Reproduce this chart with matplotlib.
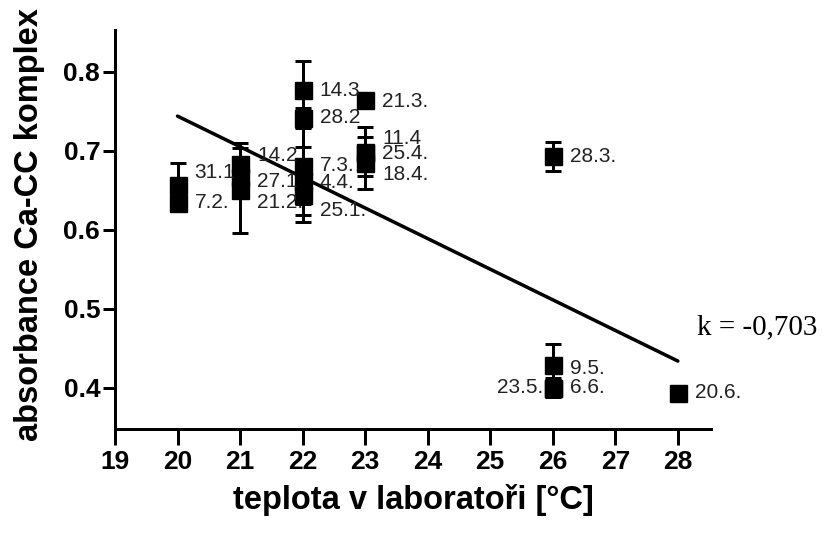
import matplotlib
matplotlib.use("Agg")
import matplotlib.pyplot as plt

# Measurement days, lab temperature and Ca-CC complex absorbance
dates = ["31.1", "7.2.",
         "14.2", "27.1", "21.2.",
         "14.3", "28.2", "7.3.", "4.4.", "25.1.",
         "21.3.", "11.4", "25.4.", "18.4.",
         "28.3.", "9.5.", "6.6.", "23.5.",
         "20.6."]
temperature = [20, 20,
               21, 21, 21,
               22, 22, 22, 22, 22,
               23, 23, 23, 23,
               26, 26, 26, 26,
               28]
absorbance = [0.657, 0.634,
              0.683, 0.667, 0.650,
              0.777, 0.742, 0.681, 0.662, 0.644,
              0.765, 0.699, 0.697, 0.685,
              0.693, 0.429, 0.400, 0.400,
              0.394]
sd = [0.028, 0.010,
      0.027, 0.020, 0.054,
      0.037, 0.012, 0.048, 0.043, 0.034,
      0.000, 0.031, 0.006, 0.033,
      0.018, 0.026, 0.012, 0.010,
      0.000]

# Vertical nudges of the point labels (pixels, + = down) and side
label_nudge = [-12, -1,
               -9, 5, 12,
               0, 0, 0, 2, 15,
               2, -13, 0, 12,
               0, 3, 0, 0,
               0]
label_left = ["23.5."]

# Linear trend line
trend_x = [20, 28]
trend_y = [0.744, 0.434]
corr_text = "k = -0,703"

x_ticks = list(range(19, 29))
y_ticks = [0.4, 0.5, 0.6, 0.7, 0.8]

plt.rcParams["font.family"] = ["Liberation Sans", "DejaVu Sans"]

W, H = 833, 533
fig = plt.figure(figsize=(W / 100, H / 100), dpi=100)
ax = fig.add_axes([115 / W, 104 / H, (711 - 115) / W, (429 - 30) / H])

px = 72 / 100  # points per pixel

for t, a, e in zip(temperature, absorbance, sd):
    ax.errorbar(t, a, yerr=e if e > 0 else None, fmt="s", color="black",
                ms=17 * px, elinewidth=3 * px, capsize=8 * px,
                capthick=3 * px, zorder=3)

ax.plot(trend_x, trend_y, color="black", lw=3.5 * px, zorder=4,
        solid_capstyle="round")

for d, t, a, n in zip(dates, temperature, absorbance, label_nudge):
    if d in label_left:
        ax.annotate(d, (t, a), xytext=(-10 * px, -n * px),
                    textcoords="offset points", ha="right", va="center",
                    fontsize=15, color="#222222", zorder=5)
    else:
        ax.annotate(d, (t, a), xytext=(17 * px, -n * px),
                    textcoords="offset points", ha="left", va="center",
                    fontsize=15, color="#222222", zorder=5)

ax.set_xlim(19, 28.53)
ax.set_ylim(0.348, 0.853)
ax.set_xticks(x_ticks)
ax.set_yticks(y_ticks)
ax.set_xticklabels([str(v) for v in x_ticks], fontsize=19, fontweight="bold")
ax.set_yticklabels([f"{v:.1f}" for v in y_ticks], fontsize=19,
                   fontweight="bold")

for side in ("top", "right"):
    ax.spines[side].set_visible(False)
for side in ("left", "bottom"):
    ax.spines[side].set_linewidth(3 * px)
ax.tick_params(axis="y", length=12 * px, width=3 * px, pad=2)
ax.tick_params(axis="x", length=16 * px, width=3 * px, pad=3.5)

fig.text(30 / W, 1 - 225 / H, "absorbance Ca-CC komplex", rotation=90,
         ha="center", va="center", fontsize=23.5, fontweight="bold")
fig.text(413 / W, 1 - 500 / H, "teplota v laboratoři [°C]",
         ha="center", va="center", fontsize=23.5, fontweight="bold")

fig.text(697 / W, 1 - 327 / H, corr_text, ha="left", va="center",
         fontsize=21, family=["Liberation Serif", "DejaVu Serif"])

fig.savefig("out.png", dpi=100)
